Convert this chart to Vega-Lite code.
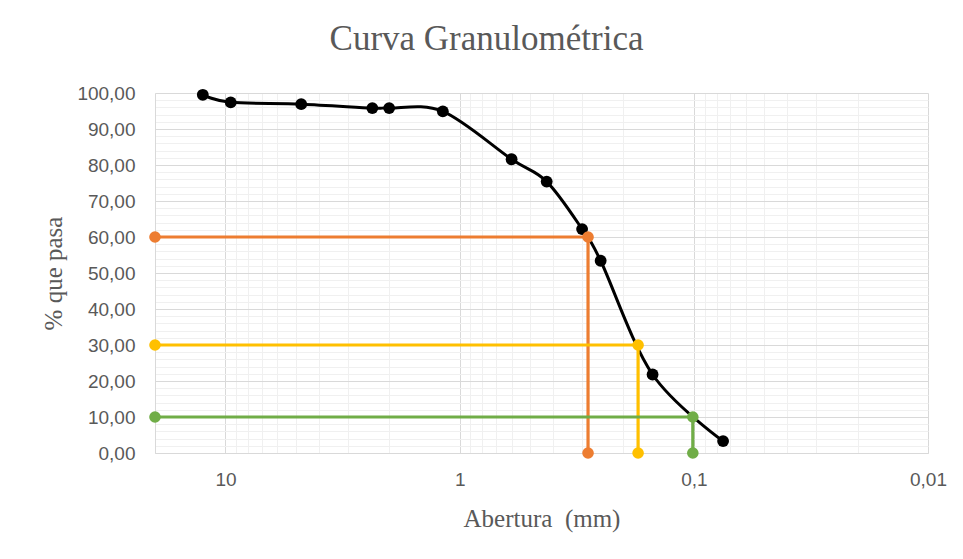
{
  "$schema": "https://vega.github.io/schema/vega-lite/v6.json",
  "autosize": "none",
  "width": 773,
  "height": 360,
  "padding": {"left": 155, "top": 93, "right": 35, "bottom": 106},
  "background": "#ffffff",
  "config": {
    "view": {"stroke": null},
    "font": "Liberation Sans"
  },
  "title": {
    "text": "Curva Granulométrica",
    "font": "Liberation Serif",
    "fontSize": 35,
    "fontWeight": "normal",
    "color": "#595959",
    "anchor": "middle",
    "frame": "group",
    "dx": -55,
    "offset": 27
  },
  "data": {
    "values": [
      {"serie": "Curva", "abertura": 12.5, "pasa": 99.5, "orden": 0},
      {"serie": "Curva", "abertura": 9.5, "pasa": 97.4, "orden": 1},
      {"serie": "Curva", "abertura": 4.75, "pasa": 96.9, "orden": 2},
      {"serie": "Curva", "abertura": 2.36, "pasa": 95.8, "orden": 3},
      {"serie": "Curva", "abertura": 2.0, "pasa": 95.8, "orden": 4},
      {"serie": "Curva", "abertura": 1.18, "pasa": 94.9, "orden": 5},
      {"serie": "Curva", "abertura": 0.6, "pasa": 81.6, "orden": 6},
      {"serie": "Curva", "abertura": 0.425, "pasa": 75.4, "orden": 7},
      {"serie": "Curva", "abertura": 0.3, "pasa": 62.2, "orden": 8},
      {"serie": "Curva", "abertura": 0.25, "pasa": 53.4, "orden": 9},
      {"serie": "Curva", "abertura": 0.15, "pasa": 21.8, "orden": 10},
      {"serie": "Curva", "abertura": 0.075, "pasa": 3.3, "orden": 11},
      {"serie": "D60", "abertura": 20, "pasa": 60, "orden": 0},
      {"serie": "D60", "abertura": 0.283, "pasa": 60, "orden": 1},
      {"serie": "D60", "abertura": 0.283, "pasa": 0, "orden": 2},
      {"serie": "D30", "abertura": 20, "pasa": 30, "orden": 0},
      {"serie": "D30", "abertura": 0.173, "pasa": 30, "orden": 1},
      {"serie": "D30", "abertura": 0.173, "pasa": 0, "orden": 2},
      {"serie": "D10", "abertura": 20, "pasa": 10, "orden": 0},
      {"serie": "D10", "abertura": 0.101, "pasa": 10, "orden": 1},
      {"serie": "D10", "abertura": 0.101, "pasa": 0, "orden": 2}
    ]
  },
  "encoding": {
    "x": {
      "field": "abertura",
      "type": "quantitative",
      "scale": {"type": "log", "domain": [0.01, 20], "reverse": true, "nice": false},
      "axis": {
        "title": "Abertura \u00a0(mm)",
        "titleFont": "Liberation Serif",
        "titleFontSize": 25,
        "titleFontWeight": "normal",
        "titleColor": "#595959",
        "titlePadding": 17,
        "values": [0.01,0.02,0.03,0.04,0.05,0.06,0.07,0.08,0.09,0.1,0.2,0.3,0.4,0.5,0.6,0.7,0.8,0.9,1,2,3,4,5,6,7,8,9,10,20],
        "labelExpr": "indexof([0.01,0.1,1,10], datum.value) >= 0 ? replace(format(datum.value, '~g'), '.', ',') : ''",
        "labelOverlap": false,
        "labelFlush": false,
        "labelFont": "Liberation Sans",
        "labelFontSize": 19,
        "labelColor": "#595959",
        "labelPadding": 17,
        "ticks": false,
        "domainColor": "#d9d9d9",
        "gridColor": {"condition": {"test": "indexof([0.01,0.1,1,10], datum.value) >= 0", "value": "#d9d9d9"}, "value": "#f0f0f0"},
        "gridWidth": 1
      }
    },
    "y": {
      "field": "pasa",
      "type": "quantitative",
      "scale": {"domain": [0, 100], "nice": false},
      "axis": {
        "title": "% que pasa",
        "titleFont": "Liberation Serif",
        "titleFontSize": 25,
        "titleFontWeight": "normal",
        "titleColor": "#595959",
        "titlePadding": 10,
        "values": [0,2,4,6,8,10,12,14,16,18,20,22,24,26,28,30,32,34,36,38,40,42,44,46,48,50,52,54,56,58,60,62,64,66,68,70,72,74,76,78,80,82,84,86,88,90,92,94,96,98,100],
        "labelExpr": "datum.value % 10 === 0 ? replace(format(datum.value, '.2f'), '.', ',') : ''",
        "labelOverlap": false,
        "labelFont": "Liberation Sans",
        "labelFontSize": 19,
        "labelColor": "#595959",
        "labelPadding": 20,
        "ticks": false,
        "domainColor": "#d9d9d9",
        "gridColor": {"condition": {"test": "datum.value % 10 === 0", "value": "#d9d9d9"}, "value": "#f0f0f0"},
        "gridWidth": 1
      }
    }
  },
  "layer": [
    {
      "transform": [{"filter": "datum.serie === 'Curva'"}],
      "mark": {"type": "line", "interpolate": "cardinal", "tension": 0, "color": "#000000", "strokeWidth": 3},
      "encoding": {"order": {"field": "orden", "type": "quantitative"}}
    },
    {
      "transform": [{"filter": "datum.serie === 'Curva'"}],
      "mark": {"type": "point", "filled": true, "opacity": 1, "color": "#000000", "size": 140}
    },
    {
      "transform": [{"filter": "datum.serie !== 'Curva'"}],
      "mark": {"type": "line", "interpolate": "linear", "strokeWidth": 3.2},
      "encoding": {
        "color": {"field": "serie", "type": "nominal", "scale": {"domain": ["D60", "D30", "D10"], "range": ["#ED7D31", "#FFC000", "#70AD47"]}, "legend": null},
        "order": {"field": "orden", "type": "quantitative"}
      }
    },
    {
      "transform": [{"filter": "datum.serie !== 'Curva'"}],
      "mark": {"type": "point", "filled": true, "opacity": 1, "size": 135},
      "encoding": {
        "color": {"field": "serie", "type": "nominal", "scale": {"domain": ["D60", "D30", "D10"], "range": ["#ED7D31", "#FFC000", "#70AD47"]}, "legend": null}
      }
    }
  ]
}
